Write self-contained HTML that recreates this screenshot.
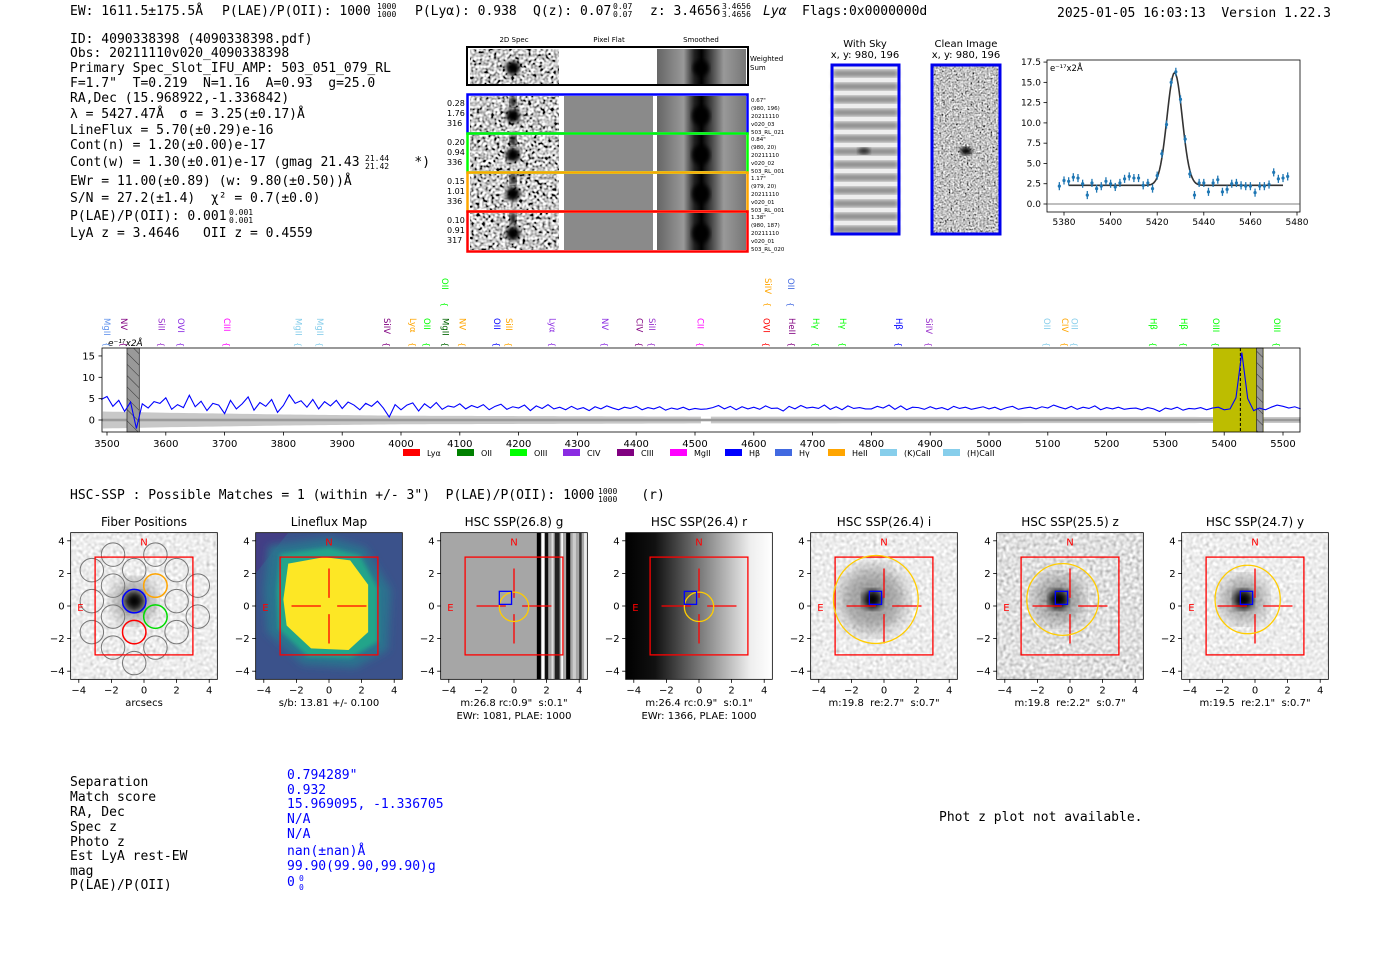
<!DOCTYPE html>
<html><head><meta charset="utf-8"><style>
html,body{margin:0;padding:0;background:#fff;width:1400px;height:953px;overflow:hidden}
svg{display:block}
text{white-space:pre}
.m{font-family:"DejaVu Sans Mono","Liberation Mono",monospace;font-size:13px}
.m.sm{font-size:8px}
.s{font-family:"DejaVu Sans","Liberation Sans",sans-serif}
.t{font-family:"DejaVu Sans","Liberation Sans",sans-serif;font-size:10px}
</style></head><body>
<svg id="root" width="1400" height="953" viewBox="0 0 1400 953" xmlns="http://www.w3.org/2000/svg" xml:space="preserve">
<defs>
<filter id="nzA" x="0" y="0" width="1" height="1"><feTurbulence type="fractalNoise" baseFrequency="0.35" numOctaves="1" seed="4"/><feColorMatrix type="matrix" values="0.33 0.33 0.33 0 0 0.33 0.33 0.33 0 0 0.33 0.33 0.33 0 0 0 0 0 0 1"/><feComponentTransfer><feFuncR type="linear" slope="5" intercept="-1.9"/><feFuncG type="linear" slope="5" intercept="-1.9"/><feFuncB type="linear" slope="5" intercept="-1.9"/></feComponentTransfer></filter>
<filter id="nzL" x="0" y="0" width="1" height="1"><feTurbulence type="fractalNoise" baseFrequency="0.3" numOctaves="1" seed="7"/><feColorMatrix type="matrix" values="0.33 0.33 0.33 0 0 0.33 0.33 0.33 0 0 0.33 0.33 0.33 0 0 0 0 0 0 1"/><feComponentTransfer><feFuncR type="linear" slope="1.2" intercept="0.25"/><feFuncG type="linear" slope="1.2" intercept="0.25"/><feFuncB type="linear" slope="1.2" intercept="0.25"/></feComponentTransfer></filter>
<filter id="nzZ" x="0" y="0" width="1" height="1"><feTurbulence type="fractalNoise" baseFrequency="0.3" numOctaves="1" seed="9"/><feColorMatrix type="matrix" values="0.33 0.33 0.33 0 0 0.33 0.33 0.33 0 0 0.33 0.33 0.33 0 0 0 0 0 0 1"/><feComponentTransfer><feFuncR type="linear" slope="1.6" intercept="-0.05"/><feFuncG type="linear" slope="1.6" intercept="-0.05"/><feFuncB type="linear" slope="1.6" intercept="-0.05"/></feComponentTransfer></filter>
<filter id="nzC" x="0" y="0" width="1" height="1"><feTurbulence type="fractalNoise" baseFrequency="0.55" numOctaves="1" seed="11"/><feColorMatrix type="matrix" values="0.33 0.33 0.33 0 0 0.33 0.33 0.33 0 0 0.33 0.33 0.33 0 0 0 0 0 0 1"/><feComponentTransfer><feFuncR type="linear" slope="3" intercept="-0.95"/><feFuncG type="linear" slope="3" intercept="-0.95"/><feFuncB type="linear" slope="3" intercept="-0.95"/></feComponentTransfer></filter>
<filter id="bl2"><feGaussianBlur stdDeviation="2"/></filter>
<filter id="bl4"><feGaussianBlur stdDeviation="4"/></filter>
<filter id="bl8"><feGaussianBlur stdDeviation="8"/></filter>
<pattern id="hatch" width="8" height="8" patternUnits="userSpaceOnUse" patternTransform="rotate(-45)"><rect width="8" height="8" fill="#999"/><line x1="0" y1="0" x2="0" y2="8" stroke="#333" stroke-width="1"/></pattern>
<linearGradient id="rgrad" x1="0" x2="1" y1="0" y2="0"><stop offset="0" stop-color="#000"/><stop offset="0.2" stop-color="#111"/><stop offset="0.55" stop-color="#888"/><stop offset="0.85" stop-color="#eee"/><stop offset="1" stop-color="#fff"/></linearGradient>
<linearGradient id="smooth" x1="0" x2="1" y1="0" y2="0"><stop offset="0" stop-color="#666"/><stop offset="0.3" stop-color="#999"/><stop offset="0.42" stop-color="#222"/><stop offset="0.5" stop-color="#000"/><stop offset="0.58" stop-color="#333"/><stop offset="0.75" stop-color="#999"/><stop offset="1" stop-color="#777"/></linearGradient>
</defs>

<g>
<text class="m" x="70" y="15">EW: 1611.5±175.5Å</text>
<text class="m" x="222" y="15">P(LAE)/P(OII): 1000</text>
<text class="m sm" x="377" y="9">1000</text>
<text class="m sm" x="377" y="17">1000</text>
<text class="m" x="415" y="15">P(Lyα): 0.938</text>
<text class="m" x="533" y="15">Q(z): 0.07</text>
<text class="m sm" x="613" y="9">0.07</text>
<text class="m sm" x="613" y="17">0.07</text>
<text class="m" x="650" y="15">z: 3.4656</text>
<text class="m sm" x="722" y="9">3.4656</text>
<text class="m sm" x="722" y="17">3.4656</text>
<text class="m" x="763" y="15" font-style="italic">Lyα</text>
<text class="m" x="802" y="15">Flags:0x0000000d</text>
<text class="m" x="1057" y="17">2025-01-05 16:03:13  Version 1.22.3</text>
</g>

<g>
<text class="m" x="70" y="43">ID: 4090338398 (4090338398.pdf)</text>
<text class="m" x="70" y="57">Obs: 20211110v020_4090338398</text>
<text class="m" x="70" y="72">Primary Spec_Slot_IFU_AMP: 503_051_079_RL</text>
<text class="m" x="70" y="87">F=1.7"  T=0.219  N=1.16  A=0.93  g=25.0</text>
<text class="m" x="70" y="102">RA,Dec (15.968922,-1.336842)</text>
<text class="m" x="70" y="118">λ = 5427.47Å  σ = 3.25(±0.17)Å</text>
<text class="m" x="70" y="134">LineFlux = 5.70(±0.29)e-16</text>
<text class="m" x="70" y="149">Cont(n) = 1.20(±0.00)e-17</text>
<text class="m" x="70" y="166">Cont(w) = 1.30(±0.01)e-17 (gmag 21.43       *)</text>
<text class="m sm" x="365" y="161">21.44</text>
<text class="m sm" x="365" y="169">21.42</text>
<text class="m" x="70" y="185">EWr = 11.00(±0.89) (w: 9.80(±0.50))Å</text>
<text class="m" x="70" y="202">S/N = 27.2(±1.4)  χ² = 0.7(±0.0)</text>
<text class="m" x="70" y="220">P(LAE)/P(OII): 0.001</text>
<text class="m sm" x="229" y="215">0.001</text>
<text class="m sm" x="229" y="223">0.001</text>
<text class="m" x="70" y="237">LyA z = 3.4646   OII z = 0.4559</text>
</g>

<g id="spec2d">
<text class="s" font-size="7" x="514" y="42" text-anchor="middle">2D Spec</text>
<text class="s" font-size="7" x="609" y="42" text-anchor="middle">Pixel Flat</text>
<text class="s" font-size="7" x="701" y="42" text-anchor="middle">Smoothed</text>
<text class="s" font-size="7" x="750" y="61">Weighted</text>
<text class="s" font-size="7" x="750" y="70">Sum</text>
</g>

<g>
<text class="s" font-size="10" x="865" y="47" text-anchor="middle">With Sky</text>
<text class="s" font-size="10" x="865" y="58" text-anchor="middle">x, y: 980, 196</text>
<text class="s" font-size="10" x="966" y="47" text-anchor="middle">Clean Image</text>
<text class="s" font-size="10" x="966" y="58" text-anchor="middle">x, y: 980, 196</text>
<g id="skystripes"></g>
<rect x="933" y="65" width="66" height="168" fill="#999" filter="url(#nzC)"/>
<ellipse cx="966" cy="151" rx="6" ry="4" fill="#000" filter="url(#bl2)"/>
<rect x="832" y="65" width="67" height="169" fill="none" stroke="#0000ee" stroke-width="3"/>
<rect x="932" y="65" width="68" height="169" fill="none" stroke="#0000ee" stroke-width="3"/>
</g>

<g id="gauss"></g>
<g id="spec"></g>

<text class="m" x="70" y="499">HSC-SSP : Possible Matches = 1 (within +/- 3")  P(LAE)/P(OII): 1000      (r)</text>
<text class="m sm" x="598" y="494">1000</text>
<text class="m sm" x="598" y="502">1000</text>

<g id="cutouts"></g>

<g>
<text class="m" x="70" y="786">Separation</text>
<text class="m" x="70" y="801">Match score</text>
<text class="m" x="70" y="816">RA, Dec</text>
<text class="m" x="70" y="831">Spec z</text>
<text class="m" x="70" y="846">Photo z</text>
<text class="m" x="70" y="860">Est LyA rest-EW</text>
<text class="m" x="70" y="875">mag</text>
<text class="m" x="70" y="889">P(LAE)/P(OII)</text>
<text class="m" x="287" y="779" fill="#00f">0.794289"</text>
<text class="m" x="287" y="794" fill="#00f">0.932</text>
<text class="m" x="287" y="808" fill="#00f">15.969095, -1.336705</text>
<text class="m" x="287" y="823" fill="#00f">N/A</text>
<text class="m" x="287" y="838" fill="#00f">N/A</text>
<text class="m" x="287" y="855" fill="#00f">nan(±nan)Å</text>
<text class="m" x="287" y="870" fill="#00f">99.90(99.90,99.90)g</text>
<text class="m" x="287" y="886" fill="#00f">0</text>
<text class="m sm" x="299" y="881" fill="#00f">0</text>
<text class="m sm" x="299" y="890" fill="#00f">0</text>
<text class="m" x="939" y="821">Phot z plot not available.</text>
</g>
</svg>
<script>
const NS='http://www.w3.org/2000/svg';
function mk(parent,tag,attrs,text){const e=document.createElementNS(NS,tag);for(const k in attrs)e.setAttribute(k,attrs[k]);if(text!==undefined)e.textContent=text;parent.appendChild(e);return e;}

/* ---------------- DATA ---------------- */
const specStart=3490, specStep=10;
const specFlux=[4.8,5.5,3.2,4.6,2.0,4.2,-2.0,3.8,2.8,4.3,3.9,
5.2,2.5,3.6,2.9,5.8,3.1,4.4,2.2,3.9,3.5,
1.5,4.6,2.6,3.8,5.4,2.3,4.1,3.2,4.8,1.8,
3.4,5.9,3.9,4.5,3.0,4.8,2.6,4.3,3.3,4.6,
2.7,4.2,3.5,2.4,3.9,3.2,4.4,2.8,0.7,3.6,
2.4,3.5,4.0,2.1,3.8,2.8,4.1,2.5,3.3,3.0,
3.8,2.6,3.4,2.9,3.6,2.4,3.2,3.7,2.5,3.1,
2.8,3.5,2.2,3.3,2.7,3.6,2.6,3.0,2.4,3.2,
2.5,2.9,2.2,3.1,2.6,3.3,2.8,2.4,3.0,2.7,
3.2,2.4,2.9,2.6,3.1,2.3,2.8,2.5,3.0,2.4,
2.7,2.5,2.6,2.9,3.4,2.6,3.2,2.4,3.1,2.6,
3.0,2.5,3.3,2.7,2.8,2.1,3.2,2.6,3.4,2.8,
3.0,2.7,3.5,2.5,3.1,2.4,3.3,2.7,2.9,2.6,
2.6,3.2,2.8,3.5,2.5,3.3,2.4,3.0,2.9,2.5,
3.1,2.6,2.9,2.4,3.2,2.7,3.0,2.5,2.8,3.1,
2.6,3.0,2.4,2.9,3.2,2.5,2.8,3.0,2.6,3.1,
2.8,3.5,3.0,2.6,3.2,2.5,3.0,2.7,3.3,2.4,
2.9,2.6,3.0,2.5,2.7,2.8,2.4,2.9,2.6,2.0,
2.8,2.5,3.0,2.3,2.7,2.6,2.9,2.4,2.8,3.0,
2.4,2.6,5.2,15.8,5.0,2.2,2.8,2.4,3.0,3.5,
3.2,2.8,3.1,2.6];
const errWave=[3490,3600,3800,4000,4500,5530];
const errVal=[2.0,1.7,1.3,1.0,0.8,0.7];
const specXTicks=[3500,3600,3700,3800,3900,4000,4100,4200,4300,4400,4500,4600,4700,4800,4900,5000,5100,5200,5300,5400,5500];
const specYTicks=[0,5,10,15];
const lineWaves=[3500,3529,3593,3626,3704,3826,3862,3976,4020,4044,4076,4105,4163,4184,4258,4347,4406,4427,4509,4622,4665,4706,4752,4847,4898,5099,5129,5145,5280,5332,5386,5490,4075,4624,4663];
const lineNames=['MgII','NV','SiII','OVI','CIII','MgII','MgII','SiIV','Lyα','OII','MgII','NV','OII','SiII','Lyα','NV','CIV','SiII','CII','OVI','HeII','Hγ','Hγ','Hβ','SiIV','OII','CIV','OII','Hβ','Hβ','OIII','OIII','OII','SiIV','OII'];
const lineColors=['#6495ed','#800080','#9932cc','#8a2be2','#ff00ff','#87ceeb','#87ceeb','#800080','#ffa500','#00ff00','#006400','#ffa500','#0000ff','#ffa500','#8a2be2','#8a2be2','#800080','#9932cc','#ff00ff','#ff0000','#800080','#00ff00','#00ff00','#0000ff','#9932cc','#87ceeb','#ffa500','#87ceeb','#00ff00','#00ff00','#00ff00','#00ff00','#00ff00','#ffa500','#4169e1'];
const lineRows=[0,0,0,0,0,0,0,0,0,0,0,0,0,0,0,0,0,0,0,0,0,0,0,0,0,0,0,0,0,0,0,0,1,1,1];
const legendNames=['Lyα','OII','OIII','CIV','CIII','MgII','Hβ','Hγ','HeII','(K)CaII','(H)CaII'];
const legendColors=['#ff0000','#008000','#00ff00','#8a2be2','#800080','#ff00ff','#0000ff','#4169e1','#ffa500','#87ceeb','#87ceeb'];

const fitWaves=[5378,5380,5382,5384,5386,5388,5390,5392,5394,5396,5398,5400,5402,5404,5406,5408,5410,5412,5414,5416,5418,5420,5422,5424,5426,5428,5430,5432,5434,5436,5438,5440,5442,5444,5446,5448,5450,5452,5454,5456,5458,5460,5462,5464,5466,5468,5470,5472,5474,5476];
const fitFlux=[2.2,2.9,2.8,3.3,3.2,2.5,1.1,2.6,1.9,2.2,2.8,2.5,2.1,2.6,3.1,3.4,3.2,3.2,2.3,2.6,1.9,3.5,6.2,9.8,15.0,16.3,12.9,8.0,3.7,1.1,2.6,2.6,1.5,2.6,3.0,1.5,1.8,2.5,2.6,2.3,2.2,2.2,1.4,2.2,2.2,2.4,3.9,3.1,3.2,3.4];
const fitErr=[0.5,0.5,0.5,0.5,0.5,0.5,0.5,0.5,0.5,0.5,0.5,0.5,0.5,0.5,0.5,0.5,0.5,0.5,0.5,0.5,0.5,0.5,0.5,0.5,0.5,0.5,0.5,0.5,0.5,0.5,0.5,0.5,0.5,0.5,0.5,0.5,0.5,0.5,0.5,0.5,0.5,0.5,0.5,0.5,0.5,0.5,0.5,0.5,0.5,0.5];
const fitParams=[5427.47,3.25,13.9,2.3];
const fitRange=[5382,5474];
const fitXTicks=[5380,5400,5420,5440,5460,5480];
const fitYTicks=[0.0,2.5,5.0,7.5,10.0,12.5,15.0,17.5];

/* ---------------- SPECTRUM ---------------- */
(function(){
const g=document.getElementById('spec');
const X0=102,X1=1300,Y0=348,Y1=432;
const sx=w=>107+(w-3500)*0.588;
const sy=v=>420-v*4.27;
mk(g,'rect',{x:X0,y:Y0,width:X1-X0,height:Y1-Y0,fill:'#fff'});
let up=[],dn=[];
for(let w=3490;w<=5530;w+=10){let i=0;while(i<errWave.length-2&&w>errWave[i+1])i++;const f=(w-errWave[i])/(errWave[i+1]-errWave[i]);const e=errVal[i]+(errVal[i+1]-errVal[i])*f;up.push(sx(Math.max(w,3493))+','+sy(e));dn.unshift(sx(Math.max(w,3493))+','+sy(-e));}
const band=mk(g,'polygon',{points:up.concat(dn).join(' '),fill:'#c8c8c8'});


const gap=mk(g,'rect',{x:sx(4510),y:sy(1.2),width:sx(4527)-sx(4510),height:sy(-1.2)-sy(1.2),fill:'#fff'});


const zl=mk(g,'rect',{x:X0,y:sy(0.3),width:X1-X0,height:sy(-0.3)-sy(0.3),fill:'#9a9a9a'});


const hl=mk(g,'rect',{x:sx(5381),y:Y0,width:sx(5467)-sx(5381),height:Y1-Y0,fill:'#bdbd00'});


const h1=mk(g,'rect',{x:sx(5455),y:Y0,width:sx(5466)-sx(5455),height:Y1-Y0,fill:'url(#hatch)',stroke:'#333','stroke-width':0.8});


const h2=mk(g,'rect',{x:sx(3534),y:Y0,width:sx(3555)-sx(3534),height:Y1-Y0,fill:'url(#hatch)',stroke:'#333','stroke-width':0.8});


const dl=mk(g,'line',{x1:sx(5427.5),x2:sx(5427.5),y1:Y0,y2:Y1,stroke:'#000','stroke-dasharray':'3,2','stroke-width':1});


const pts=specFlux.map((v,i)=>sx(specStart+i*specStep)+','+sy(v)).join(' ');
const pl=mk(g,'polyline',{points:pts,fill:'none',stroke:'#0000ff','stroke-width':1.1});


mk(g,'rect',{x:X0,y:Y0,width:X1-X0,height:Y1-Y0,fill:'none',stroke:'#000','stroke-width':0.8});
specXTicks.forEach(t=>{const x=sx(t);mk(g,'line',{x1:x,x2:x,y1:Y1,y2:Y1+3.5,stroke:'#000','stroke-width':0.8});const tx=mk(g,'text',{x:x,y:Y1+15,'text-anchor':'middle',class:'t'},String(t));});
specYTicks.forEach(t=>{const y=sy(t);mk(g,'line',{x1:X0-3.5,x2:X0,y1:y,y2:y,stroke:'#000','stroke-width':0.8});const tx=mk(g,'text',{x:X0-7,y:y+3.5,'text-anchor':'end',class:'t'},String(t));});
const un=mk(g,'text',{x:108,y:346,class:'s','font-style':'italic','font-size':9},'e⁻¹⁷x2Å');


lineWaves.forEach((w,i)=>{const x=sx(w);const yb=lineRows[i]?300:340;
const lt=mk(g,'text',{transform:`translate(${x-3},${yb-22}) rotate(90)`,class:'s','font-size':8.5,fill:lineColors[i]},lineNames[i]);


const br=mk(g,'text',{transform:`translate(${x-3},${yb+2}) rotate(90)`,class:'s','font-size':8,fill:lineColors[i]},'{');

});
let lx=403;
const adv=[54,53,53,54,53,55,50,53,52,63,0];
legendNames.forEach((n,i)=>{const r=mk(g,'rect',{x:lx,y:449,width:17,height:7,fill:legendColors[i]});
const t=mk(g,'text',{x:lx+24,y:456,class:'s','font-size':8},n);
lx+=adv[i];});
})();

/* ---------------- LINE FIT ---------------- */
(function(){
const g=document.getElementById('gauss');
const X0=1047,X1=1300,Y0=60,Y1=212;
const sx=w=>1064+(w-5380)*2.33;
const sy=v=>204-v*8.11;
mk(g,'rect',{x:X0,y:Y0,width:X1-X0,height:Y1-Y0,fill:'#fff',stroke:'#000','stroke-width':0.8});
const z=mk(g,'line',{x1:X0,x2:X1,y1:sy(0),y2:sy(0),stroke:'#555','stroke-width':0.8});


let p=[];for(let w=fitRange[0];w<=fitRange[1];w+=0.5){const v=fitParams[3]+fitParams[2]*Math.exp(-0.5*Math.pow((w-fitParams[0])/fitParams[1],2));p.push(sx(w)+','+sy(v));}
const m=mk(g,'polyline',{points:p.join(' '),fill:'none',stroke:'#333','stroke-width':1.6});


fitWaves.forEach((w,i)=>{const x=sx(w),y=sy(fitFlux[i]);
const e=mk(g,'line',{x1:x,x2:x,y1:sy(fitFlux[i]+fitErr[i]),y2:sy(fitFlux[i]-fitErr[i]),stroke:'#1f77b4','stroke-width':1.3});


const c=mk(g,'circle',{cx:x,cy:y,r:1.6,fill:'#1f77b4'});

});
fitXTicks.forEach(t=>{const x=sx(t);mk(g,'line',{x1:x,x2:x,y1:Y1,y2:Y1+3.5,stroke:'#000','stroke-width':0.8});const tx=mk(g,'text',{x:x,y:Y1+13,'text-anchor':'middle',class:'s','font-size':9},String(t));});
fitYTicks.forEach(t=>{const y=sy(t);mk(g,'line',{x1:X0-3.5,x2:X0,y1:y,y2:y,stroke:'#000','stroke-width':0.8});const tx=mk(g,'text',{x:X0-6,y:y+3,'text-anchor':'end',class:'s','font-size':9},t.toFixed(1));});
const u=mk(g,'text',{x:1050,y:71,class:'s','font-size':8.5},'e⁻¹⁷x2Å');


})();

/* ---------------- SKY STRIPES ---------------- */
(function(){
const g=document.getElementById('skystripes');
mk(g,'rect',{x:833,y:66,width:65,height:167,fill:'#eee'});
for(let y=70;y<232;y+=13){const s=mk(g,'rect',{x:833,y:y,width:65,height:7,fill:'#8a8a8a',filter:'url(#bl2)'});}
const src=mk(g,'ellipse',{cx:864,cy:151,rx:6,ry:3,fill:'#222',filter:'url(#bl2)'});


})();

/* ---------------- 2D SPEC ---------------- */
(function(){
const g=document.getElementById('spec2d');
function row(y,h,col,flatGray,labels,right,name){
 const a=mk(g,'rect',{x:470,y:y,width:89,height:h,fill:'#888',filter:'url(#nzA)'});
 mk(g,'ellipse',{cx:513,cy:y+h*0.55,rx:7,ry:7,fill:'#000',filter:'url(#bl2)'});
 mk(g,'rect',{x:510,y:y,width:6,height:h*0.3,fill:'#111',filter:'url(#bl2)'});
 const f=mk(g,'rect',{x:564,y:y,width:89,height:h,fill:flatGray});
 const s=mk(g,'rect',{x:657,y:y,width:89,height:h,fill:'url(#smooth)'});
 mk(g,'ellipse',{cx:701,cy:y+h*0.55,rx:9,ry:10,fill:'#000',filter:'url(#bl2)'});
 const b=mk(g,'rect',{x:467.5,y:y-1.5,width:280,height:h+3,fill:'none',stroke:col,'stroke-width':2.5});
 labels.forEach((t,i)=>{const tx=mk(g,'text',{x:447,y:y+10+i*10,class:'s','font-size':8},t);});
 right.forEach((t,i)=>{const tx=mk(g,'text',{x:751,y:y+6+i*8,class:'s','font-size':5.5},t);});
}
const top=mk(g,'rect',{x:470,y:49,width:89,height:35,fill:'#888',filter:'url(#nzA)'});


mk(g,'ellipse',{cx:513,cy:68,rx:7,ry:7,fill:'#000',filter:'url(#bl2)'});
const ts=mk(g,'rect',{x:657,y:49,width:89,height:35,fill:'url(#smooth)'});


mk(g,'ellipse',{cx:701,cy:68,rx:8,ry:8,fill:'#000',filter:'url(#bl2)'});
const tf=mk(g,'rect',{x:467,y:47,width:281,height:38,fill:'none',stroke:'#000','stroke-width':2});


row(96,36,'#0000ff','#8a8a8a',['0.28','1.76','316'],['0.67"','(980, 196)','20211110','v020_03','503_RL_021'],'fiber1');
row(135,36,'#00ff00','#8a8a8a',['0.20','0.94','336'],['0.84"','(980, 20)','20211110','v020_02','503_RL_001'],'fiber2');
row(174,36,'#ffa500','#8a8a8a',['0.15','1.01','336'],['1.17"','(979, 20)','20211110','v020_01','503_RL_001'],'fiber3');
row(213,37,'#ff0000','#8a8a8a',['0.10','0.91','317'],['1.38"','(980, 187)','20211110','v020_01','503_RL_020'],'fiber4');
})();

/* ---------------- CUTOUTS ---------------- */
const cutTitles=['Fiber Positions','Lineflux Map','HSC SSP(26.8) g','HSC SSP(26.4) r','HSC SSP(26.4) i','HSC SSP(25.5) z','HSC SSP(24.7) y'];
const cutCenters=[144,329,514,699,884,1070,1255];
const cutCaps=[['arcsecs'],['s/b: 13.81 +/- 0.100'],['m:26.8 rc:0.9"  s:0.1"','EWr: 1081, PLAE: 1000'],['m:26.4 rc:0.9"  s:0.1"','EWr: 1366, PLAE: 1000'],['m:19.8  re:2.7"  s:0.7"'],['m:19.8  re:2.2"  s:0.7"'],['m:19.5  re:2.1"  s:0.7"']];
(function(){
const root=document.getElementById('cutouts');
const S=16.3, CY=606;
cutCenters.forEach((cx,k)=>{
 const g=mk(root,'g',{});
 
 
 const px=v=>cx+v*S, py=v=>CY-v*S;
 const L=px(-4.5),T=py(4.5),W=9*S;
 const clip='cl'+k;const cp=mk(g,'clipPath',{id:clip});mk(cp,'rect',{x:L,y:T,width:W,height:W});
 const ig=mk(g,'g',{'clip-path':`url(#${clip})`});
 if(k===0||k===4||k===6||k===5){
  mk(ig,'rect',{x:L,y:T,width:W,height:W,fill:'#ccc',filter:k===5?'url(#nzZ)':'url(#nzL)'});
  const gx=k===0?px(-0.6):px(-0.7), gyv=k===0?py(0.3):py(0.4);
  const sz=[1.3,0,0,0,2.0,1.5,1.4][k];
  mk(ig,'circle',{cx:gx,cy:gyv,r:sz*S,fill:'#666',opacity:0.55,filter:'url(#bl8)'});
  mk(ig,'circle',{cx:gx,cy:gyv,r:0.6*S,fill:'#000',filter:'url(#bl4)'});
 } else if(k===1){
  mk(ig,'rect',{x:L,y:T,width:W,height:W,fill:'#3b528b'});
  mk(ig,'polygon',{points:[[-4.5,4.5],[-2.5,4.5],[-4.5,2]].map(p=>px(p[0])+','+py(p[1])).join(' '),fill:'#433e85'});
  mk(ig,'polygon',{points:[[-3.7,3.7],[0,4.2],[2.2,3.6],[3.8,1],[3.6,-2.7],[1.6,-3.8],[-1.6,-3.6],[-3.8,-1.6],[-4,1]].map(p=>px(p[0])+','+py(p[1])).join(' '),fill:'#2c728e',filter:'url(#bl4)'});
  mk(ig,'polygon',{points:[[-3.0,3.2],[0,3.6],[1.9,3.1],[3.0,1.1],[3.0,-2.2],[1.3,-3.2],[-1.3,-3.1],[-3.1,-1.4],[-3.2,0.9]].map(p=>px(p[0])+','+py(p[1])).join(' '),fill:'#21a58a',filter:'url(#bl2)'});
  const bl=mk(ig,'polygon',{points:[[-2.5,2.6],[-0.3,3.0],[1.3,2.8],[2.4,1.3],[2.4,-1.6],[1.2,-2.7],[-1.1,-2.6],[-2.6,-1.2],[-2.8,0.4]].map(p=>px(p[0])+','+py(p[1])).join(' '),fill:'#fde725'});
  
  
 } else if(k===2){
  mk(ig,'rect',{x:L,y:T,width:W,height:W,fill:'#a6a6a6'});
  [[1.4,0.25,'#000'],[1.7,0.15,'#fff'],[1.9,0.2,'#111'],[2.3,0.12,'#ddd'],[2.5,0.3,'#222'],[2.9,0.1,'#fff'],[3.2,0.25,'#000'],[3.6,0.2,'#ccc'],[4.0,0.15,'#333'],[4.3,0.2,'#eee']].forEach(s=>{mk(ig,'rect',{x:px(s[0]),y:T,width:s[1]*S,height:W,fill:s[2]});});
 } else {
  mk(ig,'rect',{x:L,y:T,width:W,height:W,fill:'url(#rgrad)'});
 }
 if(k===0){
  for(let i=-3;i<=3;i++)for(let j=-3;j<=3;j++){const x=-0.6+1.3*(i+j),y=0.3+0.95*(i-j);if(Math.hypot(x+0.3,y)<4.1){const c=mk(ig,'circle',{cx:px(x),cy:py(y),r:0.72*S,fill:'none',stroke:'#777','stroke-width':1});}}
  [[-0.6,0.3,'#0000ff'],[0.7,1.25,'#ffa500'],[0.7,-0.65,'#00dd00'],[-0.6,-1.6,'#ff0000']].forEach(f=>{const c=mk(ig,'circle',{cx:px(f[0]),cy:py(f[1]),r:0.72*S,fill:'none',stroke:f[2],'stroke-width':1.5});});
 }
 const rb=mk(g,'rect',{x:px(-3),y:py(3),width:6*S,height:6*S,fill:'none',stroke:'#ff0000','stroke-width':1.3});
 
 
 if(k>0){[[0.5,0,2.3,0],[-0.5,0,-2.3,0],[0,0.5,0,2.3],[0,-0.5,0,-2.3]].forEach(a=>mk(g,'line',{x1:px(a[0]),y1:py(a[1]),x2:px(a[2]),y2:py(a[3]),stroke:'#ff0000','stroke-width':1.3}));}
 if(k>=2){
  const er=[0,0,[0,-0.05,0.9,0.9],[0,-0.05,0.9,0.9],[-0.5,0.4,2.6,2.7],[-0.45,0.4,2.2,2.2],[-0.45,0.4,2.0,2.1]][k];
  const el=mk(g,'ellipse',{cx:px(er[0]),cy:py(er[1]),rx:er[2]*S,ry:er[3]*S,fill:'none',stroke:'#ffcc00','stroke-width':1.3});
  
  
  const sq=mk(g,'rect',{x:px(-0.9),y:py(0.9),width:0.75*S,height:0.8*S,fill:'none',stroke:'#0000ff','stroke-width':1.3});
  
  
 }
 const n=mk(g,'text',{x:px(0),y:py(3.7),'text-anchor':'middle',class:'s','font-size':10,fill:'#ff0000'},'N');
 const e=mk(g,'text',{x:px(-3.9),y:py(-0.3),'text-anchor':'middle',class:'s','font-size':10,fill:'#ff0000'},'E');
 mk(g,'rect',{x:L,y:T,width:W,height:W,fill:'none',stroke:'#000','stroke-width':0.8});
 const ti=mk(g,'text',{x:cx,y:526,'text-anchor':'middle',class:'s','font-size':12},cutTitles[k]);
 [-4,-2,0,2,4].forEach(t=>{
  mk(g,'line',{x1:px(t),x2:px(t),y1:T+W,y2:T+W+3.5,stroke:'#000','stroke-width':0.8});
  const a=mk(g,'text',{x:px(t),y:T+W+14,'text-anchor':'middle',class:'t'},t<0?'−'+(-t):String(t));
  mk(g,'line',{x1:L-3.5,x2:L,y1:py(t),y2:py(t),stroke:'#000','stroke-width':0.8});
  const b=mk(g,'text',{x:L-6,y:py(t)+3.5,'text-anchor':'end',class:'t'},t<0?'−'+(-t):String(t));
 });
 cutCaps[k].forEach((c,i)=>{const t=mk(g,'text',{x:cx,y:706+i*13,'text-anchor':'middle',class:'t'},c);});
});
})();
</script>
</body></html>
